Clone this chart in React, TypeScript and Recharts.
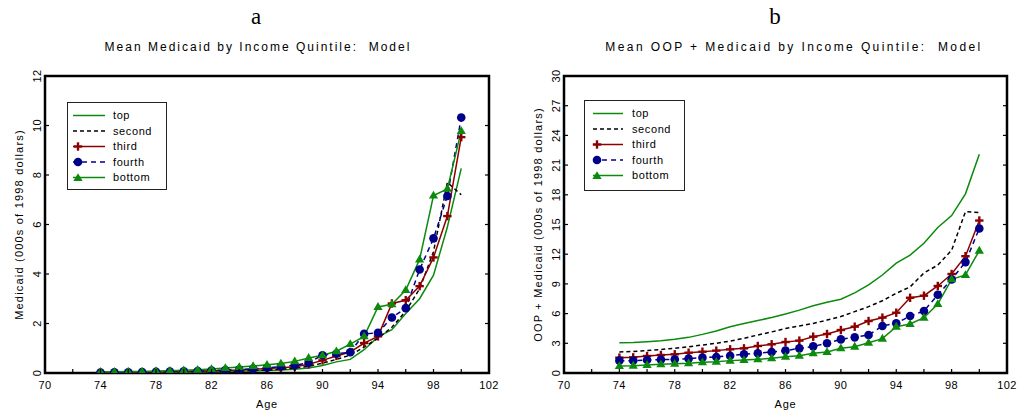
import React from "react";
import { LineChart, Line, XAxis, YAxis, ReferenceArea } from "recharts";

// ages on the x axis (model output 74..100)
const AGES = [74, 75, 76, 77, 78, 79, 80, 81, 82, 83, 84, 85, 86, 87, 88, 89, 90, 91, 92, 93, 94, 95, 96, 97, 98, 99, 100];
const X_TICKS = [70, 72, 74, 76, 78, 80, 82, 84, 86, 88, 90, 92, 94, 96, 98, 100, 102];
const Y_TICKS_A = [0, 2, 4, 6, 8, 10, 12];
const Y_TICKS_B = [0, 3, 6, 9, 12, 15, 18, 21, 24, 27, 30];

// ─── panel a: Medicaid ───
const MED_TOP = [0.01, 0.01, 0.01, 0.02, 0.02, 0.03, 0.03, 0.04, 0.05, 0.06, 0.07, 0.08, 0.1, 0.12, 0.15, 0.2, 0.3, 0.45, 0.55, 0.94, 1.46, 1.75, 2.4, 3.0, 3.95, 5.9, 8.27];
const MED_SECOND = [0.01, 0.01, 0.02, 0.02, 0.03, 0.03, 0.04, 0.05, 0.06, 0.07, 0.08, 0.1, 0.12, 0.15, 0.2, 0.27, 0.4, 0.55, 0.72, 1.05, 1.4, 1.85, 2.5, 3.4, 4.9, 7.7, 7.2];
const MED_THIRD = [0.02, 0.02, 0.03, 0.03, 0.04, 0.05, 0.06, 0.07, 0.09, 0.1, 0.12, 0.15, 0.18, 0.21, 0.25, 0.35, 0.51, 0.69, 0.85, 1.21, 1.48, 2.81, 2.94, 3.51, 4.67, 6.34, 9.53];
const MED_FOURTH = [0.02, 0.03, 0.03, 0.04, 0.05, 0.06, 0.07, 0.08, 0.1, 0.12, 0.14, 0.17, 0.21, 0.26, 0.31, 0.42, 0.72, 0.78, 0.84, 1.58, 1.62, 2.24, 2.62, 4.18, 5.44, 7.15, 10.32];
const MED_BOTTOM = [0.05, 0.05, 0.06, 0.06, 0.08, 0.09, 0.11, 0.13, 0.16, 0.2, 0.24, 0.28, 0.33, 0.38, 0.47, 0.61, 0.72, 0.88, 1.17, 1.48, 2.67, 2.78, 3.35, 4.59, 7.17, 7.44, 9.78];

// ─── panel b: OOP + Medicaid ───
const OOP_TOP = [3.06, 3.08, 3.16, 3.25, 3.4, 3.6, 3.9, 4.25, 4.68, 5.0, 5.3, 5.6, 5.95, 6.35, 6.8, 7.15, 7.45, 8.1, 8.9, 9.9, 11.1, 11.9, 13.1, 14.7, 15.9, 18.1, 22.1];
const OOP_SECOND = [2.12, 2.18, 2.26, 2.38, 2.5, 2.65, 2.83, 3.0, 3.23, 3.5, 3.84, 4.15, 4.5, 4.75, 5.0, 5.35, 5.7, 6.2, 6.7, 7.3, 8.05, 8.7, 10.1, 10.9, 12.4, 16.3, 16.2];
const OOP_THIRD = [1.55, 1.58, 1.72, 1.82, 1.89, 2.05, 2.15, 2.26, 2.39, 2.49, 2.73, 2.9, 3.13, 3.27, 3.67, 3.94, 4.34, 4.68, 5.25, 5.59, 6.09, 7.6, 7.81, 8.79, 10.0, 11.8, 15.4];
const OOP_FOURTH = [1.25, 1.25, 1.31, 1.35, 1.38, 1.45, 1.55, 1.62, 1.75, 1.89, 1.99, 2.12, 2.26, 2.49, 2.69, 3.0, 3.4, 3.6, 3.84, 4.75, 5.02, 5.76, 6.26, 7.91, 9.46, 11.2, 14.6];
const OOP_BOTTOM = [0.71, 0.74, 0.81, 0.88, 0.94, 0.98, 1.08, 1.14, 1.25, 1.31, 1.38, 1.48, 1.65, 1.75, 1.99, 2.12, 2.49, 2.66, 3.06, 3.47, 4.68, 4.95, 5.59, 6.97, 9.46, 9.9, 12.36];

const GREEN = "#0b8a0b";
const RED = "#8b0000";
const BLUE = "#00008b";
const INK = "#000";
const FONT = "'Liberation Sans', Arial, sans-serif";
const TICK_LEN = 4;

function buildRows(top: number[], second: number[], third: number[], fourth: number[], bottom: number[]) {
  return AGES.map((age, i) => ({ age, top: top[i], second: second[i], third: third[i], fourth: fourth[i], bottom: bottom[i] }));
}

// ─── markers ───
function crossDot(p: any) {
  const { cx, cy, index } = p;
  if (cx == null || cy == null) return <g key={`c${index}`} />;
  return (
    <g key={`c${index}`}>
      <line x1={cx - 4.2} x2={cx + 4.2} y1={cy} y2={cy} stroke={RED} strokeWidth={2.4} />
      <line x1={cx} x2={cx} y1={cy - 4.2} y2={cy + 4.2} stroke={RED} strokeWidth={2.4} />
    </g>
  );
}

function circleDot(p: any) {
  const { cx, cy, index } = p;
  if (cx == null || cy == null) return <g key={`o${index}`} />;
  return <circle key={`o${index}`} cx={cx} cy={cy} r={4.3} fill={BLUE} stroke="none" />;
}

function triDot(p: any) {
  const { cx, cy, index } = p;
  if (cx == null || cy == null) return <g key={`t${index}`} />;
  return <polygon key={`t${index}`} points={`${cx},${cy - 4.8} ${cx - 4.6},${cy + 3} ${cx + 4.6},${cy + 3}`} fill={GREEN} />;
}

// ─── ticks: inward marks on all four sides, labels bottom/left only ───
function bottomTick(p: any) {
  const v = p.payload?.value;
  const showLabel = (v - 70) % 4 === 0;
  return (
    <g>
      <line x1={p.x} x2={p.x} y1={p.y} y2={p.y - TICK_LEN} stroke={INK} strokeWidth={1.2} />
      {showLabel && (
        <text x={p.x} y={p.y + 12} dy="0.35em" textAnchor="middle" fontSize={11} fontFamily={FONT} fill="#000" style={{ letterSpacing: 0.4 }}>
          {v}
        </text>
      )}
    </g>
  );
}

function topTick(p: any) {
  return <line x1={p.x} x2={p.x} y1={p.y} y2={p.y + TICK_LEN} stroke={INK} strokeWidth={1.2} />;
}

function leftTick(p: any) {
  const v = p.payload?.value;
  const tx = p.x - 8;
  return (
    <g>
      <line x1={p.x} x2={p.x + TICK_LEN} y1={p.y} y2={p.y} stroke={INK} strokeWidth={1.2} />
      <text x={tx} y={p.y} dy="0.35em" textAnchor="middle" transform={`rotate(-90 ${tx} ${p.y})`} fontSize={11} fontFamily={FONT} fill="#000" style={{ letterSpacing: 0.4 }}>
        {v}
      </text>
    </g>
  );
}

function rightTick(p: any) {
  return <line x1={p.x} x2={p.x - TICK_LEN} y1={p.y} y2={p.y} stroke={INK} strokeWidth={1.2} />;
}

// ─── Legend box ───
function LegendBox({ left, top, w, h, lineX0, lineX1, markX, textX }: any) {
  const rows = [
    { label: "top", color: GREEN, dash: undefined, mark: null },
    { label: "second", color: "#000", dash: "4 3", mark: null },
    { label: "third", color: RED, dash: undefined, mark: "cross" },
    { label: "fourth", color: BLUE, dash: "5 4", mark: "circle" },
    { label: "bottom", color: GREEN, dash: undefined, mark: "tri" },
  ];
  const y0 = 13.5;
  const step = 15.5;
  return (
    <svg width={w} height={h} style={{ position: "absolute", left, top }}>
      <rect x={0.5} y={0.5} width={w - 1} height={h - 1} fill="#fff" stroke="#222" strokeWidth={1} />
      {rows.map((r, i) => {
        const y = y0 + i * step;
        return (
          <g key={r.label}>
            <line x1={lineX0} x2={lineX1} y1={y} y2={y} stroke={r.color} strokeWidth={1.5} strokeDasharray={r.dash} />
            {r.mark === "cross" && crossDot({ cx: markX, cy: y, index: 99 })}
            {r.mark === "circle" && circleDot({ cx: markX, cy: y, index: 99 })}
            {r.mark === "tri" && triDot({ cx: markX, cy: y + 0.5, index: 99 })}
            <text x={textX} y={y} dy="0.35em" fontSize={11} fontFamily={FONT} style={{ letterSpacing: 0.6 }}>
              {r.label}
            </text>
          </g>
        );
      })}
    </svg>
  );
}

interface PanelProps {
  left: number;
  width: number;
  rows: any[];
  yTicks: number[];
  yMax: number;
  margin: { top: number; right: number; bottom: number; left: number };
  yLabel: string;
}

function Panel({ left, width, rows, yTicks, yMax, margin, yLabel }: PanelProps) {
  const yLabelContent = (p: any) => {
    const vb = p.viewBox || { x: 0, y: 76, width: 30, height: 297 };
    const cx = vb.x + 4;
    const cy = vb.y + vb.height / 2;
    return (
      <text x={cx} y={cy} dy="0.35em" textAnchor="middle" transform={`rotate(-90 ${cx} ${cy})`} fontSize={11} fontFamily={FONT} style={{ letterSpacing: 1.2 }}>
        {yLabel}
      </text>
    );
  };
  const xLabelContent = (p: any) => {
    const vb = p.viewBox || { x: 45, y: 373, width: 444, height: 30 };
    return (
      <text x={vb.x + vb.width / 2} y={vb.y + 35} textAnchor="middle" fontSize={11} fontFamily={FONT} style={{ letterSpacing: 0.8 }}>
        Age
      </text>
    );
  };
  const common = { type: "number" as const, interval: 0, allowDataOverflow: true, tickSize: 0, tickMargin: 0, axisLine: false, tickLine: false };
  return (
    <div style={{ position: "absolute", left, top: 0 }}>
      <LineChart width={width} height={419} data={rows} margin={margin}>
        <XAxis dataKey="age" domain={[70, 102]} ticks={X_TICKS} height={30} tick={bottomTick} label={{ content: xLabelContent }} {...common} />
        <XAxis xAxisId="top" orientation="top" domain={[70, 102]} ticks={X_TICKS} height={1} tick={topTick} {...common} />
        <YAxis domain={[0, yMax]} ticks={yTicks} width={30} tick={leftTick} label={{ content: yLabelContent }} {...common} />
        <YAxis yAxisId="right" orientation="right" domain={[0, yMax]} ticks={yTicks} width={1} tick={rightTick} {...common} />
        {/* plot frame */}
        <ReferenceArea x1={70} x2={102} y1={0} y2={yMax} fill="none" stroke={INK} strokeWidth={2.5} ifOverflow="visible" />
        <Line dataKey="top" stroke={GREEN} strokeWidth={1.5} dot={false} isAnimationActive={false} />
        <Line dataKey="second" stroke="#000" strokeWidth={1.5} strokeDasharray="4 3" dot={false} isAnimationActive={false} />
        <Line dataKey="third" stroke={RED} strokeWidth={1.5} dot={crossDot} isAnimationActive={false} />
        <Line dataKey="fourth" stroke={BLUE} strokeWidth={1.5} strokeDasharray="5 4" dot={circleDot} isAnimationActive={false} />
        <Line dataKey="bottom" stroke={GREEN} strokeWidth={1.5} dot={triDot} isAnimationActive={false} />
      </LineChart>
    </div>
  );
}

export default function App() {
  const rowsA = buildRows(MED_TOP, MED_SECOND, MED_THIRD, MED_FOURTH, MED_BOTTOM);
  const rowsB = buildRows(OOP_TOP, OOP_SECOND, OOP_THIRD, OOP_FOURTH, OOP_BOTTOM);
  const titleStyle: React.CSSProperties = {
    position: "absolute",
    top: 40,
    fontFamily: FONT,
    fontSize: 12,
    lineHeight: "14px",
    letterSpacing: 2,
    whiteSpace: "pre",
    transform: "translateX(-50%)",
  };
  const letterStyle: React.CSSProperties = {
    position: "absolute",
    top: 5,
    fontFamily: "'Liberation Serif', 'DejaVu Serif', serif",
    fontSize: 23,
    lineHeight: "24px",
    transform: "translateX(-50%)",
  };
  return (
    <div style={{ position: "absolute", left: 0, top: 0, width: 1019, height: 419, background: "#fff", overflow: "hidden" }}>
      <Panel
        left={0}
        width={510}
        rows={rowsA}
        yTicks={Y_TICKS_A}
        yMax={12}
        margin={{ top: 75, right: 20, bottom: 16, left: 15 }}
        yLabel="Medicaid (000s of 1998 dollars)"
      />
      <Panel
        left={510}
        width={509}
        rows={rowsB}
        yTicks={Y_TICKS_B}
        yMax={30}
        margin={{ top: 75, right: 11, bottom: 16, left: 24 }}
        yLabel="OOP + Medicaid (000s of 1998 dollars)"
      />
      <div style={{ ...letterStyle, left: 256 }}>a</div>
      <div style={{ ...letterStyle, left: 775 }}>b</div>
      <div style={{ ...titleStyle, left: 258 }}>{"Mean Medicaid by Income Quintile:  Model"}</div>
      <div style={{ ...titleStyle, left: 794, letterSpacing: 2.4 }}>{"Mean OOP + Medicaid by Income Quintile:  Model"}</div>
      <LegendBox left={67} top={102} w={100} h={88} lineX0={6} lineX1={38} markX={11} textX={46} />
      <LegendBox left={584} top={100} w={101} h={91} lineX0={9} lineX1={39} markX={13} textX={48} />
    </div>
  );
}
